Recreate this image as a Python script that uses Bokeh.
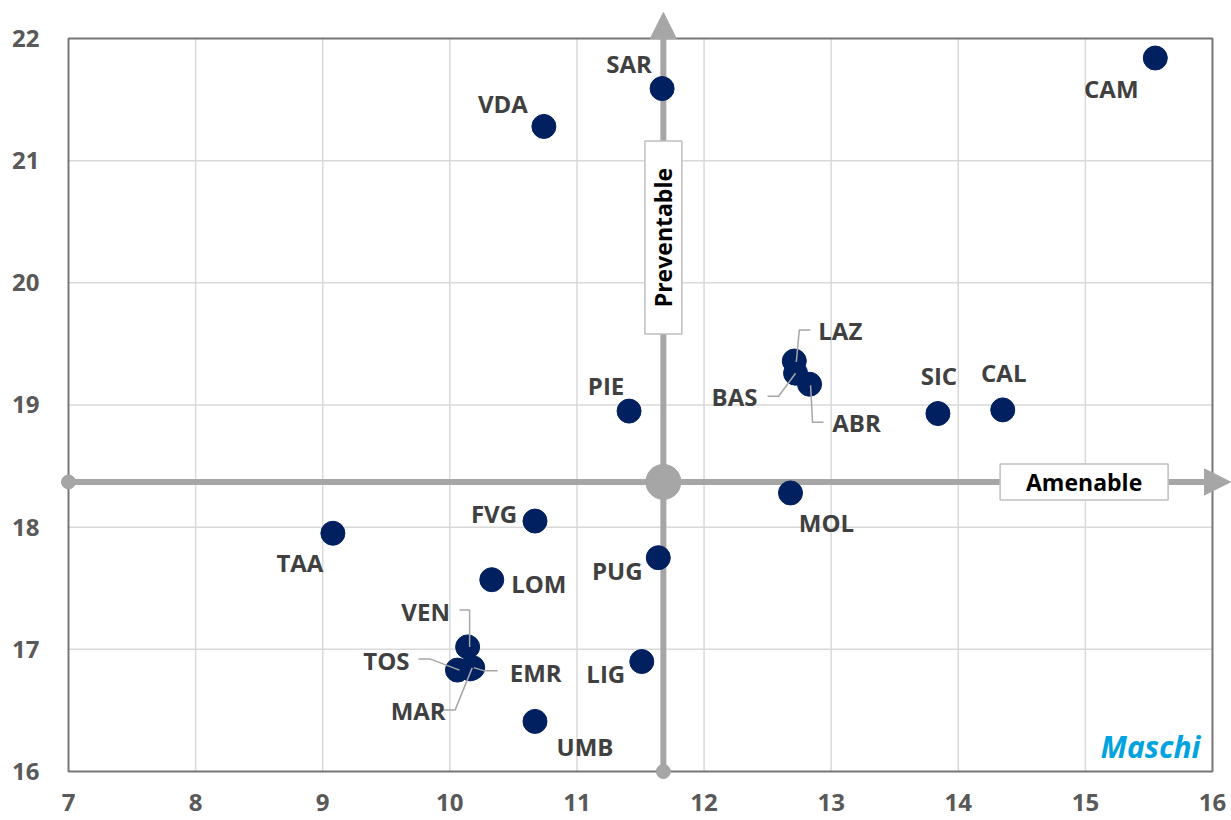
import numpy as np
from bokeh.plotting import figure
from bokeh.models import Range1d, FixedTicker, Arrow, NormalHead, ColumnDataSource
from bokeh.core.properties import value
from bokeh.embed import file_html
from bokeh.resources import INLINE

# ---------------- data ----------------
regions = ["CAM", "SAR", "VDA", "LAZ", "BAS", "ABR", "SIC", "CAL", "PIE", "MOL",
           "FVG", "TAA", "PUG", "LOM", "VEN", "TOS", "EMR", "MAR", "LIG", "UMB"]
amenable = [15.55, 11.67, 10.74, 12.71, 12.72, 12.83, 13.84, 14.35, 11.41, 12.68,
            10.67, 9.08, 11.64, 10.33, 10.14, 10.06, 10.18, 10.16, 11.51, 10.67]
preventable = [21.84, 21.59, 21.28, 19.36, 19.26, 19.17, 18.93, 18.96, 18.95, 18.28,
               18.05, 17.95, 17.75, 17.57, 17.02, 16.83, 16.85, 16.84, 16.90, 16.41]
italy_amenable = 11.68
italy_preventable = 18.37
x_ticks = list(range(7, 17))
y_ticks = list(range(16, 23))

# ---------------- layout / style ----------------
SX = 127.11   # px per unit (x)
SY = 122.17   # px per unit (y)
PAD_L, PAD_B = 10, 10           # frame extends beyond the 7 / 16 border so end-caps are not clipped
FRAME_W, FRAME_H = 1173, 771
X_START = x_ticks[0] - PAD_L / SX
Y_START = y_ticks[0] - PAD_B / SY
X_END = X_START + FRAME_W / SX
Y_END = Y_START + FRAME_H / SY

NAVY = "#002060"
ARROW = "#A6A6A6"
GRID = "#D9D9D9"
BORDER = "#767676"
LABEL = "#404040"
TICK = "#595959"
FONT = "Open Sans"

# label offsets in screen pixels (dx right, dy down)
label_off = {
    "CAM": (-44, 30), "SAR": (-33, -25), "VDA": (-41, -23), "LAZ": (46, -31),
    "BAS": (-61, 23), "ABR": (47, 38), "SIC": (1, -38), "CAL": (1, -37),
    "PIE": (-23, -26), "MOL": (36, 30), "FVG": (-41, -8), "TAA": (-33, 29),
    "PUG": (-41, 13), "LOM": (47, 4), "VEN": (-42, -35), "TOS": (-71, -10),
    "EMR": (63, 5), "MAR": (-52, 42), "LIG": (-36, 12), "UMB": (50, 25),
}
# leader line paths in screen pixels relative to the point
leaders = {
    "VEN": [(2, 0), (2, -37), (-8, -37)],
    "TOS": [(2, 0), (-27, -11), (-39, -11)],
    "EMR": [(1, 0), (11, 3), (25, 3)],
    "MAR": [(2, -1), (-15, 41), (-27, 41)],
    "LAZ": [(2, 1), (5, -31), (16, -31)],
    "BAS": [(0, 0), (-17, 23), (-28, 23)],
    "ABR": [(1, 1), (3, 38), (14, 38)],
}

p = figure(frame_width=FRAME_W, frame_height=FRAME_H,
           x_range=Range1d(X_START, X_END), y_range=Range1d(Y_START, Y_END),
           output_backend="svg", toolbar_location=None,
           min_border_left=58, min_border_right=0, min_border_top=10, min_border_bottom=39)
p.xgrid.visible = False
p.ygrid.visible = False
p.outline_line_color = None
p.background_fill_color = "white"

for ax, ticks in ((p.xaxis, x_ticks), (p.yaxis, y_ticks)):
    ax.ticker = FixedTicker(ticks=ticks)
    ax.axis_line_color = None
    ax.major_tick_line_color = None
    ax.minor_tick_line_color = None
    ax.major_label_text_font = FONT
    ax.major_label_text_font_style = "bold"
    ax.major_label_text_font_size = "24px"
    ax.major_label_text_color = TICK
p.xaxis.major_label_standoff = 6
p.yaxis.major_label_standoff = 13

# grid
gx = x_ticks[1:-1]
p.segment(x0=gx, y0=[y_ticks[0]] * len(gx), x1=gx, y1=[y_ticks[-1]] * len(gx),
          line_color=GRID, line_width=1.5)
gy = y_ticks[1:-1]
p.segment(x0=[x_ticks[0]] * len(gy), y0=gy, x1=[x_ticks[-1]] * len(gy), y1=gy,
          line_color=GRID, line_width=1.5)
# border
p.quad(left=[x_ticks[0]], right=[x_ticks[-1]], bottom=[y_ticks[0]], top=[y_ticks[-1]],
       fill_color=None, line_color=BORDER, line_width=2)

# quadrant arrows
tip_x = X_END - 1 / SX
tip_y = Y_END - 2 / SY
p.segment(x0=[x_ticks[0]], y0=[italy_preventable], x1=[tip_x - 20 / SX], y1=[italy_preventable],
          line_color=ARROW, line_width=6)
p.segment(x0=[italy_amenable], y0=[y_ticks[0]], x1=[italy_amenable], y1=[tip_y - 20 / SY],
          line_color=ARROW, line_width=6)
head = dict(size=26, fill_color=ARROW, line_color=ARROW)
p.add_layout(Arrow(end=NormalHead(**head), x_start=tip_x - 26 / SX, y_start=italy_preventable,
                   x_end=tip_x, y_end=italy_preventable, line_alpha=0))
p.add_layout(Arrow(end=NormalHead(**head), x_start=italy_amenable, y_start=tip_y - 26 / SY,
                   x_end=italy_amenable, y_end=tip_y, line_alpha=0))
p.scatter(x=[x_ticks[0], italy_amenable], y=[italy_preventable, y_ticks[0]], size=14,
          fill_color=ARROW, line_color=ARROW)
p.scatter(x=[italy_amenable], y=[italy_preventable], size=35, fill_color=ARROW, line_color=ARROW)

# axis name boxes
prev_box_y = 20.37
amen_box_x = 14.99
p.rect(x=[italy_amenable], y=[prev_box_y], width=37, height=193,
       width_units="screen", height_units="screen",
       fill_color="white", line_color="#BFBFBF", line_width=1.5)
p.text(x=[italy_amenable], y=[prev_box_y], text=["Preventable"], angle=np.pi / 2,
       text_align="center", text_baseline="middle", text_font=value(FONT),
       text_font_style="bold", text_font_size="23px", text_color="black")
p.rect(x=[amen_box_x], y=[italy_preventable], width=168, height=36,
       width_units="screen", height_units="screen",
       fill_color="white", line_color="#BFBFBF", line_width=1.5)
p.text(x=[amen_box_x], y=[italy_preventable], text=["Amenable"],
       text_align="center", text_baseline="middle", text_font=value(FONT),
       text_font_style="bold", text_font_size="23px", text_color="black")

# points
src = ColumnDataSource(dict(
    x=amenable, y=preventable, name=regions,
    dx=[label_off[r][0] for r in regions], dy=[label_off[r][1] for r in regions]))
p.scatter("x", "y", source=src, size=24, fill_color=NAVY, line_color=NAVY)

# leader lines
idx = {r: i for i, r in enumerate(regions)}
xs, ys = [], []
for r, path in leaders.items():
    x0, y0 = amenable[idx[r]], preventable[idx[r]]
    xs.append([x0 + dx / SX for dx, dy in path])
    ys.append([y0 - dy / SY for dx, dy in path])
p.multi_line(xs=xs, ys=ys, line_color=ARROW, line_width=1.5)

# labels
p.text("x", "y", text="name", source=src, x_offset="dx", y_offset="dy",
       text_align="center", text_baseline="middle", text_font=value(FONT),
       text_font_style="bold", text_font_size="24px", text_color=LABEL)

p.text(x=[x_ticks[-1]], y=[y_ticks[0]], text=["Maschi"], x_offset=-12, y_offset=-25,
       text_align="right", text_baseline="middle", text_font=value(FONT),
       text_font_style="bold italic", text_font_size="30px", text_color="#00A3E0")

open("out.html", "w").write(file_html(p, INLINE))
